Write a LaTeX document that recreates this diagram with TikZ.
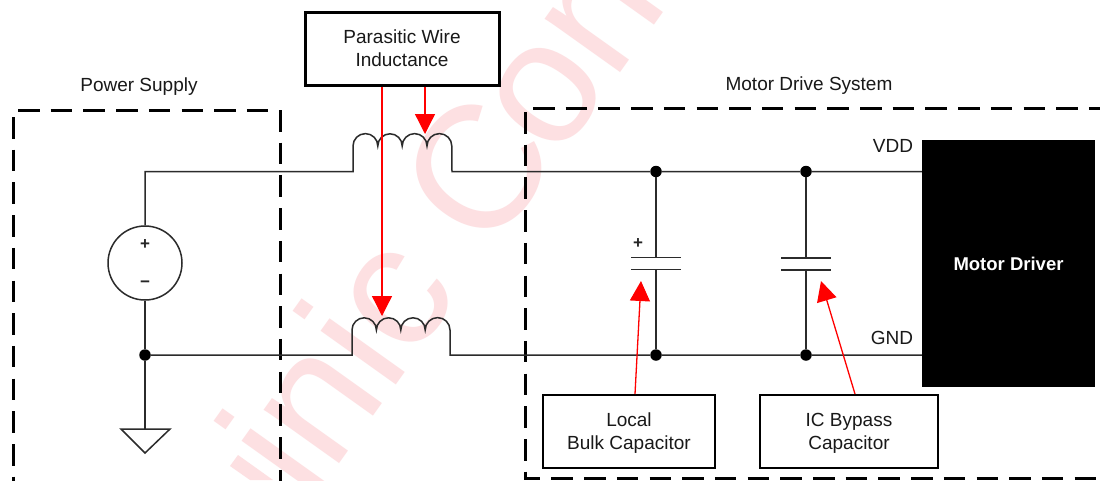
\documentclass[tikz,border=0pt]{standalone}
\usepackage{fontspec}
\setmainfont{Liberation Sans}
\usetikzlibrary{arrows.meta}
\definecolor{wm}{HTML}{FDE0E2}
\definecolor{wirec}{HTML}{2B2B2B}
\tikzset{
  x=1pt,y=-1pt,
  wire/.style={draw=wirec,line width=1.5pt},
  dashbox/.style={draw=black,line width=3pt,dash pattern=on 21.5pt off 11.2pt},
  labelbox/.style={draw=black,line width=2.6pt,align=center,font=\fontsize{19}{23}\selectfont,text=black!90,inner sep=0pt},
  lbl/.style={font=\fontsize{19}{22}\selectfont,text=black!90,inner sep=0pt},
  junction/.style={circle,fill=black,inner sep=0pt,minimum size=11.5pt},
  callout/.style={draw=red,line width=1.3pt,-{Triangle[length=20pt,width=20pt,fill=red]}},
  sign/.style={font=\fontsize{17}{17}\selectfont\bfseries,text=black!85,inner sep=0pt},
  wmark/.style={anchor=base west,rotate=54.5,text=wm,inner sep=0pt,font=\fontsize{175}{175}\selectfont},
}
\begin{document}
\begin{tikzpicture}
\useasboundingbox (0,0) rectangle (1100,480);
\fill[white] (0,0) rectangle (1100,480);
% watermark
\begin{scope}
\clip (0,0) rectangle (1100,480);
\node[wmark] (markA) at (310,505) {inic};
\node[wmark] (markB) at (489,257) {C\kern-9pt on};
\fill[wm] (238,455) -- (230,466) -- (250,480) -- (273,480) -- cycle;
\end{scope}
% dashed enclosures
\draw[dashbox] (13.5,117) -- (13.5,500);
\draw[dashbox] (18,110.5) -- (269,110.5);
\draw[dashbox] (280.5,110) -- (280.5,500);
\draw[dashbox] (525.5,112) -- (525.5,478.5) -- (1100,478.5);
\draw[dashbox] (533,108.5) -- (1100,108.5);
% fixed points
\coordinate (tl) at (145,171.5);
\coordinate (a1) at (353,171.5);
\coordinate (a2) at (452,171.5);
\coordinate (b1) at (352,355);
\coordinate (b2) at (450,355);
\node[junction] (j1) at (145,355) {};
\node[junction] (j2) at (656,171.5) {};
\node[junction] (j3) at (806,171.5) {};
\node[junction] (j4) at (656,355) {};
\node[junction] (j5) at (806,355) {};
\node[draw=wirec,line width=1.5pt,circle,minimum size=74pt,inner sep=0pt] (src) at (145,263) {};
\node[sign] (sp) at (145,244.5) {+};
\node[sign] (sm) at (145,284.5) {−};
% motor driver
\node[fill=black,minimum width=173pt,minimum height=247pt,inner sep=0pt,text=white,font=\fontsize{18.5}{22}\selectfont\bfseries] (md) at (1008.5,263.5) {Motor Driver};
% wires
\draw[wire] (src.north) -- (tl) -- (a1) -- (353,146)
  arc[start angle=180,end angle=360,radius=12.4]
  arc[start angle=180,end angle=360,radius=12.2]
  arc[start angle=180,end angle=360,radius=12.4]
  arc[start angle=180,end angle=360,radius=12.4] -- (a2) -- (j2) -- (j3) -- (md.west |- j3);
\draw[wire] (src.south) -- (j1);
\draw[wire] (j1) -- (b1) -- (352,330)
  arc[start angle=180,end angle=360,radius=12.2]
  arc[start angle=180,end angle=360,radius=12.2]
  arc[start angle=180,end angle=360,radius=12.2]
  arc[start angle=180,end angle=360,radius=12.4] -- (b2) -- (j4) -- (j5) -- (md.west |- j5);
% ground
\coordinate (g1) at (145,429);
\draw[wire] (j1) -- (g1);
\draw[wire,line join=miter] (121,429) -- (170,429) -- (145,453) -- cycle;
% capacitors
\coordinate (c1t) at (656,257.5);
\coordinate (c1b) at (656,269.5);
\coordinate (c2t) at (806,258);
\coordinate (c2b) at (806,270);
\draw[wire] (j2) -- (c1t);
\draw[wire] (c1b) -- (j4);
\draw[wire] (j3) -- (c2t);
\draw[wire] (c2b) -- (j5);
\draw[wire] (631,257.5) -- (681,257.5);
\draw[wire] (631,269.5) -- (681,269.5);
\draw[wire] (781,258) -- (831,258);
\draw[wire] (781,270) -- (831,270);
\node[sign] (cp) at (638,243.5) {+};
% text labels
\node[lbl] (ps) at (139,86.5) {Power Supply};
\node[lbl] (mds) at (809,85.5) {Motor Drive System};
\node[lbl] (vdd) at (893,146) {VDD};
\node[lbl] (gnd) at (892,338) {GND};
% boxes
\node[labelbox,line width=3pt,minimum width=194pt,minimum height=73pt] (pw) at (402,48.5) {Parasitic Wire\\Inductance};
\node[labelbox,minimum width=172pt,minimum height=73pt] (lb) at (629,431.5) {\rule{0pt}{16.5pt}Local\\Bulk Capacitor};
\node[labelbox,minimum width=178pt,minimum height=73pt] (ic) at (849,431.5) {\rule{0pt}{16.5pt}IC Bypass\\Capacitor};
% red callouts
\coordinate (t1) at (425,134);
\coordinate (t2) at (382,316);
\coordinate (t3) at (641,281);
\coordinate (t4) at (821,281);
\coordinate (s3) at (635,394);
\coordinate (s4) at (855,394);
\draw[callout] (pw.south -| t1) -- (t1);
\draw[callout] (pw.south -| t2) -- (t2);
\draw[callout] (s3) -- (t3);
\draw[callout] (s4) -- (t4);
\end{tikzpicture}
\end{document}
